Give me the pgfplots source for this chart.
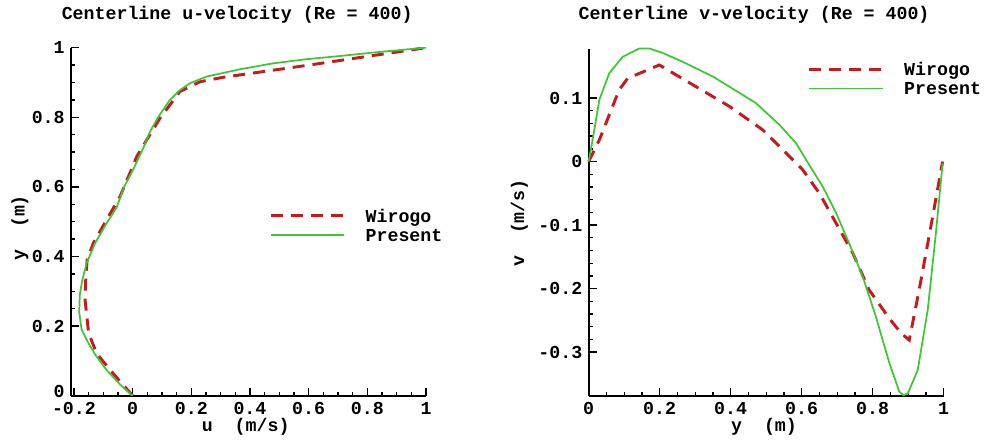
\documentclass[border=0pt]{standalone}
\usepackage{pgfplots}
\pgfplotsset{compat=1.18}
\usepackage{fontspec}
\setmainfont{Liberation Mono}[Scale=1.37]
\definecolor{wred}{RGB}{200,25,30}
\definecolor{pgreen}{RGB}{60,200,50}
\pgfplotsset{
  tpstyle/.style={
    scale only axis,
    axis lines=left,
    axis line style={-, line width=1.6pt, black},
    tick align=inside,
    tick pos=left,
    major tick length=6pt,
    minor tick length=3pt,
    every tick/.style={black, line width=1pt},
    minor x tick num=3,
    font=\bfseries,
    /pgf/number format/assume math mode=true,
    /pgf/number format/fixed,
    /pgf/number format/precision=1,
    legend cell align=left,
    legend style={draw=none, fill=none, inner sep=0pt, row sep=5pt,
      nodes={inner sep=0pt, text depth=0pt}},
    legend image code/.code={\draw[#1] (0pt,0pt) -- (55pt,0pt);},
    /tikz/every odd column/.append style={column sep=15pt},
  },
  wstyle/.style={color=wred, line width=2.2pt, dash pattern=on 9pt off 6pt},
  pstyle/.style={color=pgreen, line width=1.3pt},
}
\begin{document}
\bfseries
\begin{tikzpicture}
\useasboundingbox (0,0) rectangle (739.5pt,330.75pt);
\begin{axis}[tpstyle,
  at={(53.25pt,33.98pt)}, anchor=south west,
  width=266.25pt, height=261pt,
  xmin=-0.21, xmax=1, ymin=0, ymax=1,
  xtick={-0.2,0,0.2,0.4,0.6,0.8,1},
  ytick={0.2,0.4,0.6,0.8,1},
  extra y ticks={0},
  extra y tick style={yticklabel style={yshift=3pt}},
  minor y tick num=3,
  title={Centerline u-velocity (Re = 400)},
  title style={at={(0.468,1)}, anchor=base, yshift=15pt},
  xlabel={u~~(m/s)},
  xlabel style={at={(0.492,-0.09)}, anchor=center},
  ylabel={y~~(m)},
  ylabel style={at={(-0.1437,0.482)}, anchor=center, rotate=0},
  legend style={at={(0.558,0.4905)}, anchor=west},
]
\addplot[wstyle] coordinates {
(0.000,0.000) (-0.077,0.074) (-0.123,0.122) (-0.150,0.180) (-0.162,0.275)
(-0.160,0.330) (-0.155,0.390) (-0.134,0.438) (-0.089,0.505) (-0.043,0.572)
(-0.009,0.640) (0.014,0.687) (0.048,0.735) (0.093,0.797) (0.161,0.874)
(0.229,0.902) (0.309,0.915) (0.593,0.949) (1.000,1.000)};
\addlegendentry{Wirogo}
\addplot[pstyle] coordinates {
(0.000,0.000) (-0.040,0.030) (-0.089,0.074) (-0.125,0.115) (-0.150,0.150)
(-0.174,0.190) (-0.182,0.240) (-0.180,0.290) (-0.172,0.330) (-0.157,0.380)
(-0.128,0.438) (-0.089,0.495) (-0.055,0.540) (-0.029,0.600) (0.002,0.650)
(0.036,0.711) (0.060,0.760) (0.087,0.800) (0.127,0.850) (0.161,0.878)
(0.196,0.898) (0.252,0.917) (0.366,0.938) (0.479,0.955) (0.593,0.967)
(0.706,0.976) (0.820,0.986) (0.934,0.995) (1.000,1.000)};
\addlegendentry{Present}
\end{axis}
\begin{axis}[tpstyle,
  at={(441.5pt,33.98pt)}, anchor=south west,
  width=266.25pt, height=259.8pt,
  xmin=0, xmax=1, ymin=-0.3685, ymax=0.1767,
  clip=false,
  xtick={0,0.2,0.4,0.6,0.8,1},
  ytick={-0.3,-0.2,-0.1,0,0.1},
  minor y tick num=4,
  title={Centerline v-velocity (Re = 400)},
  title style={at={(0.466,1)}, anchor=base, yshift=16.2pt},
  xlabel={y~~(m)},
  xlabel style={at={(0.494,-0.0904)}, anchor=center},
  ylabel={v~~(m/s)},
  ylabel style={at={(-0.195,0.4985)}, anchor=center, rotate=0},
  legend style={at={(0.617,0.9157)}, anchor=west},
]
\addplot[wstyle] coordinates {
(0.000,0.000) (0.030,0.034) (0.086,0.113) (0.110,0.131) (0.199,0.152)
(0.302,0.118) (0.396,0.087) (0.490,0.050) (0.537,0.024) (0.603,-0.013)
(0.650,-0.050) (0.697,-0.097) (0.744,-0.144) (0.790,-0.202) (0.847,-0.247)
(0.880,-0.270) (0.903,-0.281) (0.931,-0.202) (0.964,-0.102) (0.997,0.000)};
\addlegendentry{Wirogo}
\addplot[pstyle] coordinates {
(0.000,0.000) (0.011,0.034) (0.030,0.097) (0.058,0.139) (0.096,0.165)
(0.143,0.178) (0.171,0.178) (0.208,0.171) (0.265,0.157) (0.349,0.134)
(0.396,0.118) (0.471,0.092) (0.537,0.058) (0.584,0.029) (0.621,-0.005)
(0.659,-0.039) (0.697,-0.081) (0.734,-0.129) (0.772,-0.181) (0.809,-0.244)
(0.847,-0.317) (0.875,-0.362) (0.886,-0.368) (0.899,-0.365) (0.927,-0.328)
(0.955,-0.234) (0.978,-0.113) (0.997,-0.003)};
\addlegendentry{Present}
\end{axis}
\end{tikzpicture}
\end{document}
